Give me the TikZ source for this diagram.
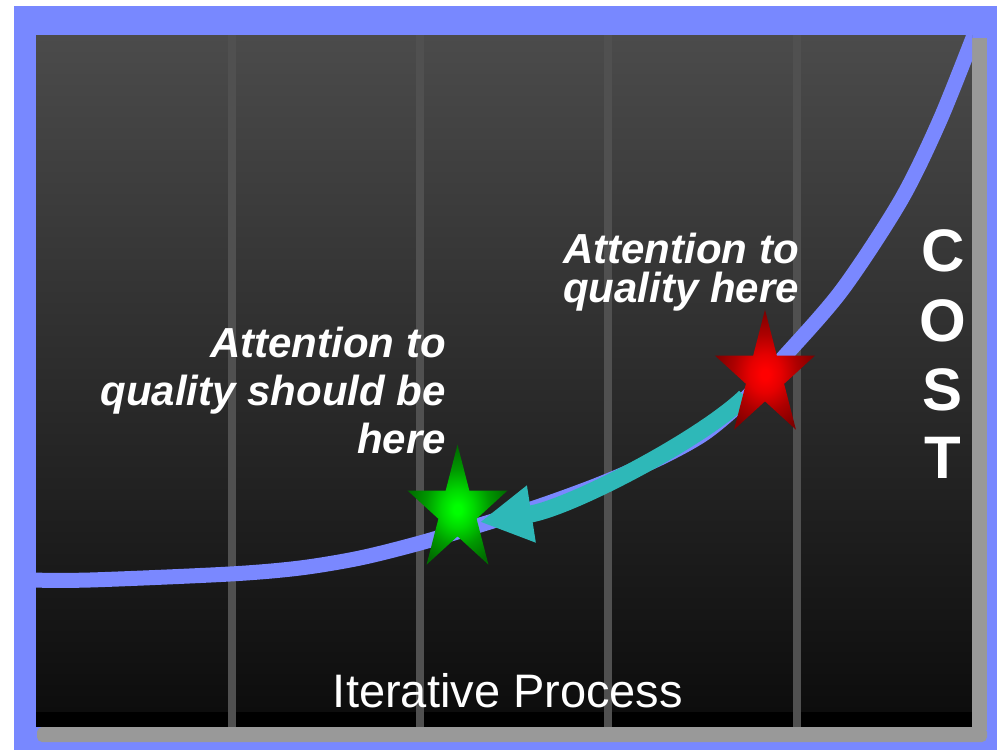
\documentclass[tikz,border=0pt]{standalone}
\usepackage{fontspec}
\setmainfont{Liberation Sans}
\usetikzlibrary{arrows.meta}
\definecolor{frameblue}{RGB}{120,136,255}
\definecolor{curveblue}{RGB}{122,136,255}
\definecolor{arrowteal}{RGB}{46,184,184}
\definecolor{bgtop}{RGB}{75,75,75}
\definecolor{bgbot}{RGB}{13,13,13}
\definecolor{axisgray}{RGB}{153,153,153}
\definecolor{gridgray}{RGB}{80,80,80}
\pgfdeclareradialshading{redstarshade}{\pgfpoint{0bp}{-2bp}}{rgb(0bp)=(1,0,0);rgb(2bp)=(1,0,0);rgb(8bp)=(0.9,0,0);rgb(16bp)=(0.68,0,0);rgb(25bp)=(0.5,0,0);rgb(50bp)=(0.5,0,0)}
\pgfdeclareradialshading{greenstarshade}{\pgfpoint{0bp}{-2bp}}{rgb(0bp)=(0,1,0);rgb(2bp)=(0,1,0);rgb(8bp)=(0,0.85,0);rgb(16bp)=(0,0.6,0);rgb(25bp)=(0,0.42,0);rgb(50bp)=(0,0.42,0)}
\tikzset{
  gridline/.style={gridgray, line width=8pt},
  qualitytext/.style={text=white, inner sep=0pt, font=\fontsize{42}{42}\selectfont\bfseries\itshape},
  costletter/.style={text=white, inner sep=0pt, anchor=base, font=\fontsize{60}{60}\selectfont\bfseries},
  axistext/.style={text=white, inner sep=0pt, anchor=base, font=\fontsize{47}{47}\selectfont},
  costcurve/.style={curveblue, line width=15pt},
  backarrow/.style={arrowteal, line width=17pt, -{Triangle[length=52pt, width=54pt]}}
}
% star centred at (#1,#2), outer radii 52.6 (x) and 66.3 (y)
\newcommand\starpathat[2]{({#1},{#2-66.3})
  \foreach \k in {1,...,4}{
    -- ({#1+20.09*cos(54+72*\k)},{#2-25.33*sin(54+72*\k)})
    -- ({#1+52.6*cos(90+72*\k)},{#2-66.3*sin(90+72*\k)})}
  -- ({#1+20.09*cos(54)},{#2-25.33*sin(54)}) -- cycle}
\begin{document}
\begin{tikzpicture}[x=1pt,y=-1pt]
\useasboundingbox (0,0) rectangle (997,750);
\fill[white] (0,0) rectangle (997,750);
% frame
\fill[frameblue] (14,6) rectangle (997,750);
% plot area
\shade[top color=bgtop, bottom color=bgbot] (36,35) rectangle (972,712);
\fill[black] (36,712) rectangle (972,727);
% grid lines
\foreach \gx in {232,419.5,608,796.5}{
  \draw[gridline] (\gx,35) -- (\gx,727);
}
% axes
\fill[axisgray] (972,38) rectangle (987,727);
\fill[axisgray, rounded corners=5pt] (37,727) -- (987,727) -- (987,742) -- (37,742) -- cycle;
\fill[axisgray] (972,720) rectangle (987,730);
% cost curve
\begin{scope}
\clip (30,30) rectangle (972,727);
\draw[costcurve] plot[smooth, tension=0.5] coordinates {(28,580) (90,580) (230,574) (300,568) (360,558) (420,543) (480,525) (540,506) (600,484) (660,458) (705,433) (745,399) (783,358) (842,290) (901,200) (940,120) (976,30)};
\end{scope}
% named points
\coordinate (redstar) at (765,376);
\coordinate (greenstar) at (457.5,511);
\coordinate (arrowtail) at (745,397);
\coordinate (arrowtip) at (480,522);
% arrow
\draw[backarrow] (arrowtail) .. controls (700,440) and (570,508) .. (arrowtip);
% stars
\shade[shading=greenstarshade] \starpathat{457.5}{511};
\shade[shading=redstarshade] \starpathat{765}{376};
% texts
\node[qualitytext, anchor=base] (late1) at (681,263) {Attention to};
\node[qualitytext, anchor=base] (late2) at (681,302) {quality here};
\node[qualitytext, anchor=base east] (early1) at (446,357) {Attention to};
\node[qualitytext, anchor=base east] (early2) at (446,405) {quality should be};
\node[qualitytext, anchor=base east] (early3) at (446,453) {here};
\node[costletter] (costC) at (943,271) {C};
\node[costletter] (costO) at (943,341) {O};
\node[costletter] (costS) at (943,410) {S};
\node[costletter] (costT) at (943,478) {T};
\node[axistext] (xlabel) at (508,707) {Iterative Process};
\end{tikzpicture}
\end{document}
